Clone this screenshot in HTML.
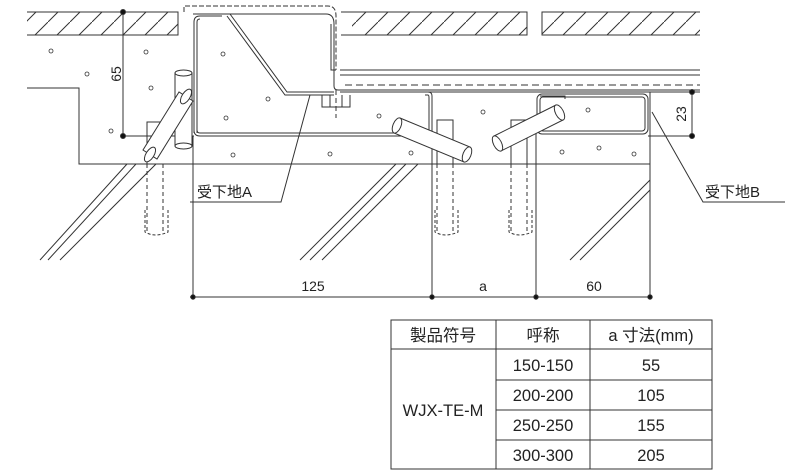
<!DOCTYPE html>
<html><head><meta charset="utf-8"><style>
body{margin:0;background:#fff;width:800px;height:476px;overflow:hidden}
svg{display:block}
text{font-family:"Liberation Sans","Noto Sans CJK JP",sans-serif;fill:#222}
</style></head><body>
<svg width="800" height="476" viewBox="0 0 800 476" xmlns="http://www.w3.org/2000/svg">
<defs>
<pattern id="h" width="22" height="22" patternUnits="userSpaceOnUse" patternTransform="translate(4,0)">
<line x1="0" y1="22" x2="22" y2="0" stroke="#333" stroke-width="1"/>
</pattern>
</defs>
<g fill="none" stroke="#333" stroke-width="1">
<rect x="27" y="12" width="151" height="23" fill="url(#h)" stroke="none"/>
<path d="M27 12H178V35H27"/>
<rect x="352" y="12" width="175" height="23" fill="url(#h)" stroke="none"/>
<path d="M341 12H527V35H341"/>
<rect x="542" y="12" width="158" height="23" fill="url(#h)" stroke="none"/>
<path d="M700 12H542V35H700"/>
<path d="M27 88H79V164H650"/>
<path d="M650 92V297"/>
<path d="M340 70H700M340 75H700M340 90H700M340 92H700" />
<path d="M345 85H700" stroke-dasharray="7,4"/>
<path d="M184 12V6H328Q336 6 336 16V70" stroke-dasharray="5,2"/>
<path d="M194 133V22Q194 16 200 16H222"/>
<path d="M197 133V22Q197 19 200 19"/>
<path d="M193 14H326Q334 14 334 24V86Q334 90 338 90H345"/>
<path d="M331 24V70H336"/>
<path d="M230 14L287 92H334"/>
<path d="M227 16L285 95H334"/>
<path d="M194 130Q194 136 200 136H432M197 130Q197 133 200 133H430"/>
<path d="M322 95V107H350V95M330 95V107M342 95V107"/>
<path d="M336 90V118" stroke-dasharray="5,3"/>
<path d="M401 92H428Q432 92 432 96V133M425 95H428Q429 95 429 98V130"/>
<rect x="537" y="94" width="111" height="40" rx="5"/>
<rect x="540" y="97" width="105" height="34" rx="3"/>
<path d="M540 96H565V99"/>
<path d="M123 12V136H194"/>
<circle cx="123" cy="12" r="2.5" fill="#111"/><circle cx="123" cy="136" r="2.5" fill="#111"/>
<path d="M648 92H692V136H648"/>
<circle cx="692" cy="92" r="2.5" fill="#111"/><circle cx="692" cy="136" r="2.5" fill="#111"/>
<path d="M193 136V297M432 118V297M536 118V297"/>
<path d="M190 297H650"/>
<circle cx="193" cy="297" r="2.2" fill="#111"/><circle cx="432" cy="297" r="2.2" fill="#111"/><circle cx="536" cy="297" r="2.2" fill="#111"/><circle cx="650" cy="297" r="2.2" fill="#111"/>
<path d="M147 164V233M163 164V233M437 164V233M453 164V233M511 164V233M527 164V233" stroke-dasharray="4,3"/>
<path d="M145 210V232Q155 238 168 232V210M435 210V232Q445 238 458 232V210M509 210V232Q519 238 532 232V210" stroke-dasharray="3,2"/>
<path d="M147 164V122H163V150M437 164V120H453V164M511 164V120H527V164"/>
<!-- rebars -->
<g fill="#fff">
<path d="M175 73V146H192V73Z"/>
<ellipse cx="183.5" cy="73" rx="8.5" ry="3"/>
<ellipse cx="183.5" cy="146" rx="8.5" ry="3"/>
<path d="M179 92L143 150L157 159L193 101Z"/>
<ellipse cx="186" cy="96.5" rx="8.3" ry="4" transform="rotate(-58 186 96.5)"/>
<ellipse cx="150" cy="154.5" rx="8.3" ry="4" transform="rotate(-58 150 154.5)"/>
<path d="M400 118L470 147L464 162L394 133Z"/>
<ellipse cx="397" cy="125.5" rx="8" ry="4" transform="rotate(-68 397 125.5)"/>
<ellipse cx="467" cy="154.5" rx="8" ry="4" transform="rotate(-68 467 154.5)"/>
<path d="M556 105L494 136L501 151L563 120Z"/>
<ellipse cx="559.5" cy="112.5" rx="8.3" ry="4" transform="rotate(63 559.5 112.5)"/>
<ellipse cx="497.5" cy="143.5" rx="8.3" ry="4" transform="rotate(63 497.5 143.5)"/>
</g>
<path d="M40 260L127 164M48 260L136 164M60 260L156 164"/>
<path d="M300 260L396 164M310 260L406 164M322 260L418 164"/>
<path d="M570 260L650 180M580 260L650 190"/>
<path d="M190 202H281L310 95"/>
<path d="M785 202H703L652 112"/>
<g stroke-width="0.8">
<circle cx="51" cy="51" r="2"/><circle cx="146" cy="52" r="2"/><circle cx="87" cy="74" r="2"/><circle cx="151" cy="88" r="2"/><circle cx="111" cy="131" r="2"/>
<circle cx="223" cy="54" r="2"/><circle cx="268" cy="99" r="2"/><circle cx="226" cy="118" r="2"/><circle cx="233" cy="155" r="2"/><circle cx="330" cy="154" r="2"/>
<circle cx="379" cy="116" r="2"/><circle cx="483" cy="112" r="2"/><circle cx="411" cy="153" r="2"/><circle cx="588" cy="110" r="2"/>
<circle cx="562" cy="152" r="2"/><circle cx="599" cy="148" r="2"/><circle cx="634" cy="154" r="2"/>
</g>
<rect x="391" y="320" width="321" height="149"/>
<path d="M391 349H712M496 320V469M590 320V469M496 380H712M496 410H712M496 440H712"/>
</g>
<text x="121" y="74" font-size="14" transform="rotate(-90 121 74)" text-anchor="middle">65</text>
<text x="686" y="114" font-size="14" transform="rotate(-90 686 114)" text-anchor="middle">23</text>
<text x="197" y="197" font-size="15">受下地A</text>
<text x="705" y="197" font-size="15">受下地B</text>
<text x="313" y="291" font-size="14" text-anchor="middle">125</text>
<text x="483" y="291" font-size="14" text-anchor="middle">a</text>
<text x="594" y="291" font-size="14" text-anchor="middle">60</text>
<g font-size="16.5" text-anchor="middle">
<text x="443" y="341">製品符号</text>
<text x="543" y="341">呼称</text>
<text x="651" y="341">a 寸法(mm)</text>
<text x="443" y="416">WJX-TE-M</text>
<text x="543" y="371">150-150</text><text x="651" y="371">55</text>
<text x="543" y="401">200-200</text><text x="651" y="401">105</text>
<text x="543" y="431">250-250</text><text x="651" y="431">155</text>
<text x="543" y="461">300-300</text><text x="651" y="461">205</text>
</g>
</svg>
</body></html>
